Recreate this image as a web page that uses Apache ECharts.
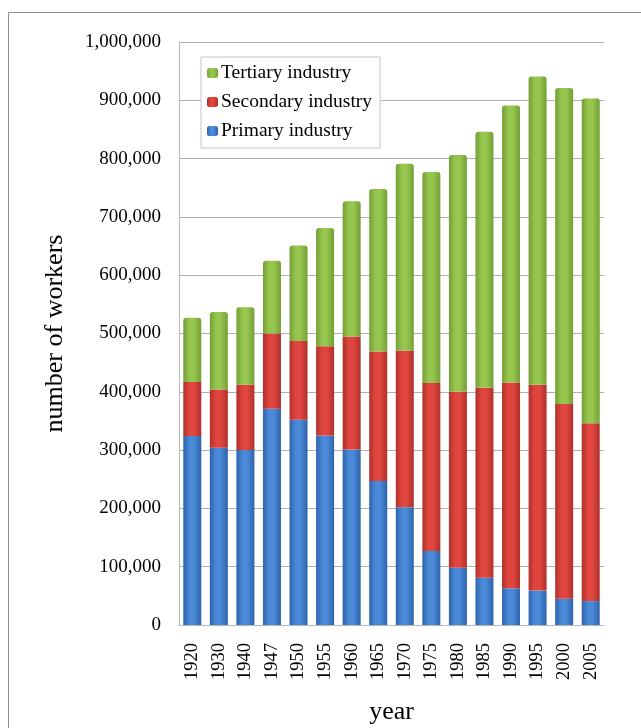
<!DOCTYPE html>
<html>
<head>
<meta charset="utf-8">
<script src="https://cdn.jsdelivr.net/npm/echarts@6/dist/echarts.min.js"></script>
<style>html,body{margin:0;padding:0;background:#fff}#c{width:641px;height:728px}</style>
</head>
<body>
<div id="c"></div>
<script>
const years = ['1920','1930','1940','1947','1950','1955','1960','1965','1970','1975','1980','1985','1990','1995','2000','2005'];
const primary = [324000,304000,300000,371000,352000,325000,301000,247000,202000,127000,98000,81000,63000,59000,45000,41000];
const secondary = [93000,100000,112000,129000,135000,153000,194000,222000,269000,288000,302000,326000,353000,353000,334000,305000];
const tertiary = [110000,133000,133000,125000,164000,203000,232000,279000,320000,362000,406000,439000,475000,529000,542000,557000];
const yTicks = {min:0, max:1000000, interval:100000};

function grad(dark, light){
  return new echarts.graphic.LinearGradient(0,0,1,0,[
    {offset:0,color:dark},{offset:0.35,color:light},{offset:0.6,color:light},{offset:1,color:dark}
  ]);
}
const font = '"Liberation Serif","DejaVu Serif",serif';
const chart = echarts.init(document.getElementById('c'));
chart.setOption({
  animation:false,
  backgroundColor:'#fff',
  textStyle:{fontFamily:font},
  graphic:[{type:'rect',shape:{x:8.5,y:12.5,width:700,height:760},style:{fill:'none',stroke:'#8c8c8c',lineWidth:1},silent:true}],
  grid:{left:179,right:37,top:42,bottom:103,containLabel:false,outerBoundsMode:'none'},
  legend:{
    orient:'vertical', left:201, top:57, itemWidth:11, itemHeight:10, itemGap:9,
    padding:[6,8,7,6], backgroundColor:'#fff', borderColor:'#c4c4c4', borderWidth:1,
    textStyle:{fontFamily:font,fontSize:19.5,color:'#000',padding:[0,0,0,-2]},
    data:['Tertiary industry','Secondary industry','Primary industry']
  },
  xAxis:{
    type:'category', data:years, name:'year', nameLocation:'middle', nameGap:74,
    nameTextStyle:{fontFamily:font,fontSize:26,color:'#000'},
    axisLine:{lineStyle:{color:'#b8b8b8'}}, axisTick:{show:false},
    axisLabel:{rotate:90, fontFamily:font, fontSize:18.5, color:'#000', margin:18}
  },
  yAxis:{
    type:'value', min:yTicks.min, max:yTicks.max, interval:yTicks.interval,
    name:'number of workers', nameLocation:'middle', nameGap:111,
    nameTextStyle:{fontFamily:font,fontSize:26,color:'#000'},
    axisLine:{show:true,lineStyle:{color:'#b8b8b8'}}, axisTick:{show:false},
    splitLine:{lineStyle:{color:'#b0b0b0'}},
    axisLabel:{fontFamily:font,fontSize:19,color:'#000',margin:18,formatter:v=>v.toLocaleString('en-US')}
  },
  series:[
    {name:'Primary industry',type:'bar',stack:'t',barWidth:18,data:primary,
     itemStyle:{color:grad('#2f62ac','#4a8ad8')}},
    {name:'Secondary industry',type:'bar',stack:'t',barWidth:18,data:secondary,
     itemStyle:{color:grad('#b0302b','#e0463f')}},
    {name:'Tertiary industry',type:'bar',stack:'t',barWidth:18,data:tertiary,
     itemStyle:{color:grad('#739f35','#97c64f'),borderRadius:[3,3,0,0]}}
  ]
});
</script>
</body>
</html>
